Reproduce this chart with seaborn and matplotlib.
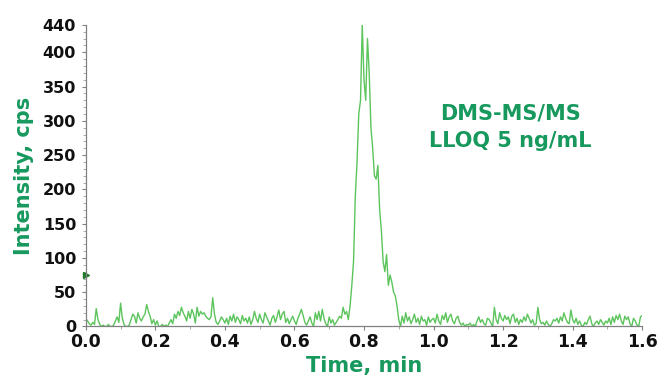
import numpy as np
import pandas as pd
import seaborn as sns
import matplotlib.pyplot as plt
from matplotlib.ticker import MultipleLocator

# --- данные хроматограммы (отсчёты через 0.005 мин) ---
time_step = 0.005
intensity = [
    12, 8, 4, 2, 6, 3, 26, 10, 3, 0, 2, 0, 0, 3, 0, 0, 2, 8, 14, 6,
    34, 12, 3, 0, 0, 2, 10, 18, 15, 5, 20, 12, 8, 14, 18, 32, 22, 15, 4, 10,
    2, 8, 0, 0, 3, 0, 2, 0, 5, 10, 4, 18, 12, 22, 16, 28, 20, 15, 8, 22,
    12, 25, 18, 5, 28, 15, 22, 18, 20, 15, 12, 10, 14, 42, 18, 6, 3, 8, 14, 10,
    5, 12, 3, 15, 8, 18, 6, 14, 10, 4, 16, 8, 12, 5, 14, 3, 10, 22, 12, 6,
    18, 10, 5, 20, 14, 8, 2, 12, 16, 6, 14, 24, 10, 18, 22, 6, 12, 4, 10, 15,
    8, 3, 12, 18, 25, 16, 6, 2, 8, 14, 5, 0, 20, 10, 22, 8, 25, 12, 4, 0,
    14, 5, 10, 2, 6, 10, 15, 12, 28, 18, 22, 10, 30, 60, 95, 190, 240, 310, 330, 440,
    360, 330, 420, 370, 290, 260, 220, 215, 235, 170, 140, 95, 80, 105, 60, 75, 65, 50, 45, 30,
    10, 0, 15, 5, 20, 8, 14, 4, 10, 18, 6, 12, 3, 15, 8, 10, 2, 14, 6, 10,
    12, 5, 18, 8, 3, 16, 10, 20, 6, 14, 18, 8, 4, 12, 15, 6, 2, 5, 0, 3,
    2, 5, 0, 3, 0, 8, 14, 6, 10, 4, 2, 12, 10, 5, 0, 28, 10, 4, 20, 12,
    8, 16, 10, 14, 4, 15, 18, 6, 12, 3, 10, 6, 14, 8, 18, 12, 5, 10, 2, 4,
    28, 10, 4, 6, 2, 8, 3, 0, 4, 10, 8, 12, 5, 14, 8, 20, 12, 6, 4, 24,
    10, 5, 12, 3, 8, 2, 0, 6, 3, 10, 15, 4, 0, 5, 8, 3, 10, 6, 2, 8,
    5, 12, 3, 14, 6, 16, 10, 18, 8, 3, 15, 10, 14, 4, 0, 12, 8, 2, 0, 14,
    16,
]
time_min = np.arange(len(intensity)) * time_step

y_ticks = [0, 50, 100, 150, 200, 250, 300, 350, 400, 440]
x_ticks = [0.0, 0.2, 0.4, 0.6, 0.8, 1.0, 1.2, 1.4, 1.6]
threshold_level = 75  # маленький треугольник на оси Y

label_green = "#17995e"
line_green = "#5cc45c"

df = pd.DataFrame({"time": time_min, "intensity": intensity})

sns.set_style("ticks")
plt.rcParams["font.family"] = ["DejaVu Sans"]

fig = plt.figure(figsize=(6.6, 3.77), dpi=100)
ax = fig.add_axes([0.130, 0.134, 0.843, 0.800])

sns.lineplot(data=df, x="time", y="intensity", color=line_green, linewidth=1.0, ax=ax)

ax.set_xlim(0, 1.6)
ax.set_ylim(0, 440)
ax.set_xticks(x_ticks)
ax.set_xticklabels([f"{v:.1f}" for v in x_ticks])
ax.set_yticks(y_ticks)
ax.xaxis.set_minor_locator(MultipleLocator(0.1))
ax.yaxis.set_minor_locator(MultipleLocator(10))
ax.tick_params(axis="both", which="major", length=3, width=0.8, color="#808080",
               labelcolor="#111111")
ax.tick_params(axis="y", which="major", pad=4)
ax.tick_params(axis="x", which="major", pad=2)
ax.tick_params(axis="both", which="minor", length=2, width=0.6, color="#a0a0a0")
for lbl in ax.get_yticklabels():
    lbl.set_fontsize(11.5)
    lbl.set_fontweight("bold")
for lbl in ax.get_xticklabels():
    lbl.set_fontsize(12.5)
    lbl.set_fontweight("bold")

sns.despine(ax=ax)
for side in ["left", "bottom"]:
    ax.spines[side].set_color("#808080")
    ax.spines[side].set_linewidth(0.9)

ax.set_xlabel("Time, min", fontsize=15, fontweight="bold", color=label_green, labelpad=3)
ax.set_ylabel("Intensity, cps", fontsize=15, fontweight="bold", color=label_green, labelpad=6)

ax.plot([0], [threshold_level], marker=">", markersize=4, color="#1f7a2a",
        clip_on=False, linestyle="none")

ax.text(0.763, 0.66, "DMS-MS/MS\nLLOQ 5 ng/mL", transform=ax.transAxes,
        ha="center", va="center", fontsize=15, fontweight="bold",
        color=label_green, linespacing=1.5)

fig.savefig("out.png", dpi=100)
